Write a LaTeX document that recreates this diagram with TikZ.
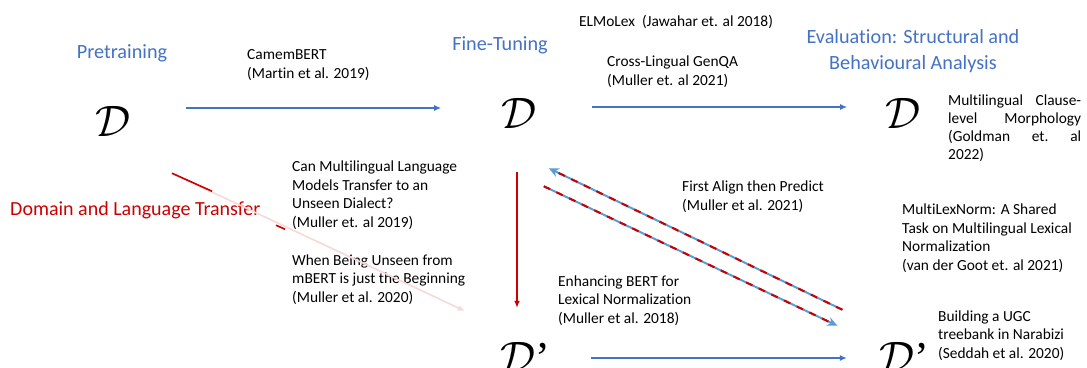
\documentclass[tikz,border=0pt]{standalone}
\usepackage{fontspec}
\setmainfont{Carlito}[Ligatures=CommonOff]
\newfontfamily\primefont{Liberation Serif}
\DeclareFontShape{OMS}{cmsy}{m}{n}{<-6>cmsy5<6-8>cmsy7<8->cmsy10}{}
\usetikzlibrary{arrows.meta}
\definecolor{stageblue}{RGB}{68,114,196}
\definecolor{linkblue}{RGB}{91,155,213}
\definecolor{transred}{RGB}{204,0,0}
\tikzset{
  dset/.style={inner sep=0pt, font=\fontsize{44}{44}\selectfont},
  stage/.style={inner sep=0pt, text=stageblue, font=\fontsize{20.2}{25.5}\selectfont, align=center},
  paper/.style={anchor=base west, inner sep=0pt, align=left, font=\fontsize{15.4}{18.5}\selectfont},
  flow/.style={draw=stageblue, line width=1.6pt, -{Latex[length=7pt,width=6pt]}},
  redflow/.style={draw=transred, line width=1.6pt, -{Latex[length=7pt,width=6pt]}},
  link/.style={draw=linkblue, line width=2pt, -{Stealth[length=10pt,width=9pt]}},
  linkdash/.style={draw=transred, line width=2pt, dash pattern=on 7pt off 7pt}
}
\begin{document}
\begin{tikzpicture}[x=1pt,y=-1pt]
  \useasboundingbox[fill=white] (0,0) rectangle (1087,367);
  % stages
  \node[stage] (pretrain) at (122,53) {Pretraining};
  \node[stage] (finetune) at (500,45) {Fine-Tuning};
  \node[stage] (evaluation) at (913,51) {Evaluation: Structural and\\Behavioural Analysis};
  \node[stage, anchor=west, text=transred, font=\fontsize{20}{25}\selectfont] (transfer) at (10,210) {Domain and Language Transfer};
  % datasets
  \node[dset] (pre) at (113,121) {$\mathcal{D}$};
  \node[dset] (ft) at (519,113) {$\mathcal{D}$};
  \node[dset] (eval) at (903,113) {$\mathcal{D}$};
  \node[dset] (dp) at (525,357) {$\mathcal{D}${\primefont ’}};
  \node[dset] (dpeval) at (904,357) {$\mathcal{D}${\primefont ’}};
  % papers (anchored at the baseline of their last line)
  \foreach \n/\x/\y/\t in {
    cam/247/78/{CamemBERT\\(Martin et al. 2019)},
    elmo/579/26/{ELMoLex\ \ (Jawahar et. al 2018)},
    genqa/607/85/{Cross-Lingual GenQA\\(Muller et. al 2021)},
    dialect/292/227/{Can Multilingual Language\\Models Transfer to an\\Unseen Dialect?\\(Muller et. al 2019)},
    unseen/292/302/{When Being Unseen from\\mBERT is just the Beginning\\(Muller et al. 2020)},
    enh/558/323/{Enhancing BERT for\\Lexical Normalization\\(Muller et al. 2018)},
    fap/682/210/{First Align then Predict\\(Muller et al. 2021)},
    lexnorm/902/270/{MultiLexNorm: A Shared\\Task on Multilingual Lexical\\Normalization\\(van der Goot et. al 2021)},
    ugc/938/358/{Building a UGC\\treebank in Narabizi\\(Seddah et al. 2020)}}
    \node[paper] (\n) at (\x,\y) {\t};
  % justified block, anchored at its first line
  \node[paper, text width=133pt, font=\fontsize{15.4}{18}\selectfont] (morph) at (948,105) {Multilingual\hfill Clause-\\level\hfill Morphology\\(Goldman\hfill et.\hfill al\\2022)};
  % arrows
  \draw[flow] ([xshift=55pt,yshift=13pt]pre.east) -- ([xshift=-60pt,yshift=5pt]ft.west);
  \draw[flow] ([xshift=55pt,yshift=6pt]ft.east) -- ([xshift=-38pt,yshift=6pt]eval.west);
  \draw[flow] ([xshift=41pt,yshift=-1pt]dp.east) -- ([xshift=-32pt,yshift=-1pt]dpeval.west);
  \draw[redflow] ([xshift=-2pt,yshift=-44pt]ft.south) -- ([xshift=-8pt,yshift=34pt]dp.north);
  \draw[link] ([xshift=-36.5pt,yshift=32pt]dpeval.north west) -- ([xshift=12pt,yshift=-40pt]ft.south east);
  \draw[linkdash, shorten >=10pt] ([xshift=-36.5pt,yshift=32pt]dpeval.north west) -- ([xshift=12pt,yshift=-40pt]ft.south east);
  \draw[link] ([xshift=7pt,yshift=-58pt]ft.south east) -- ([xshift=-41.5pt,yshift=16pt]dpeval.north west);
  \draw[linkdash, shorten >=10pt] ([xshift=7pt,yshift=-58pt]ft.south east) -- ([xshift=-41.5pt,yshift=16pt]dpeval.north west);
  % faded transfer arrow
  \draw[redflow, draw=transred!15] ([xshift=59pt,yshift=-37pt]pre.south) -- ([xshift=-35pt,yshift=46pt]dp.west);
  \draw[transred, line width=1.6pt] ([xshift=59pt,yshift=-37pt]pre.south) -- ++(40,18);
  \draw[transred, line width=1.6pt] ([xshift=163pt,yshift=-89pt]pre.south) -- ++(9,4);
\end{tikzpicture}
\end{document}
